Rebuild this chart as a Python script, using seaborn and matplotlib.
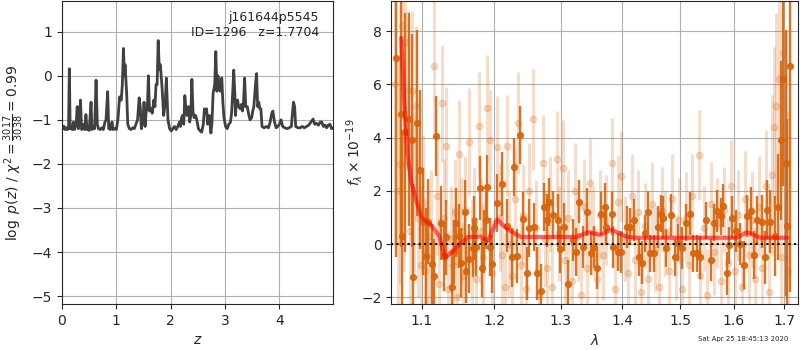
import numpy as np
import matplotlib
matplotlib.use("Agg")
import matplotlib.pyplot as plt
import matplotlib.ticker as mticker
import seaborn as sns

# p(z) curve
z_grid = [0.00, 0.02, 0.04, 0.06, 0.08, 0.10, 0.12, 0.135, 0.15, 0.17,
          0.19, 0.21, 0.23, 0.26, 0.28, 0.30, 0.32, 0.34, 0.36, 0.38,
          0.40, 0.42, 0.44, 0.46, 0.48, 0.50, 0.535, 0.55, 0.58, 0.60,
          0.627, 0.65, 0.67, 0.70, 0.73, 0.76, 0.79, 0.81, 0.84, 0.86,
          0.89, 0.92, 0.94, 0.97, 1.00, 1.03, 1.06, 1.09, 1.11, 1.13,
          1.15, 1.16, 1.19, 1.21, 1.24, 1.27, 1.30, 1.33, 1.36, 1.39,
          1.42, 1.44, 1.46, 1.49, 1.51, 1.53, 1.55, 1.57, 1.59, 1.61,
          1.64, 1.66, 1.69, 1.71, 1.73, 1.75, 1.77, 1.79, 1.81, 1.84,
          1.87, 1.90, 1.92, 1.95, 1.98, 2.01, 2.04, 2.07, 2.10, 2.13,
          2.16, 2.18, 2.20, 2.22, 2.24, 2.26, 2.28, 2.30, 2.33, 2.35,
          2.37, 2.39, 2.41, 2.43, 2.46, 2.48, 2.51, 2.54, 2.57, 2.60,
          2.62, 2.64, 2.66, 2.68, 2.71, 2.74, 2.76, 2.78, 2.81, 2.83,
          2.85, 2.87, 2.89, 2.91, 2.94, 2.96, 2.98, 3.01, 3.04, 3.07,
          3.10, 3.12, 3.14, 3.16, 3.18, 3.19, 3.21, 3.23, 3.25, 3.28,
          3.30, 3.32, 3.34, 3.36, 3.38, 3.41, 3.43, 3.46, 3.49, 3.51,
          3.53, 3.56, 3.58, 3.60, 3.62, 3.64, 3.66, 3.68, 3.72, 3.76,
          3.80, 3.83, 3.86, 3.88, 3.91, 3.94, 3.97, 4.00, 4.03, 4.06,
          4.10, 4.14, 4.18, 4.22, 4.24, 4.26, 4.28, 4.30, 4.34, 4.38,
          4.42, 4.46, 4.50, 4.54, 4.58, 4.62, 4.65, 4.68, 4.72, 4.75,
          4.78, 4.81, 4.84, 4.87, 4.90, 4.93, 4.96, 4.99]
log_pz = [-1.12, -1.20, -1.15, -1.22, -1.18, -1.22, -1.20, 0.16, -1.20, -1.15,
          -1.22, -1.05, -1.22, -1.10, -0.70, -1.20, -0.95, -0.55, -1.22, -1.20,
          -1.10, -1.22, -0.88, -1.22, -1.18, -1.24, -0.60, -1.22, -1.15, -1.20,
          -0.10, -1.10, -1.20, -1.22, -1.18, -1.22, -1.05, -1.00, -0.36, -1.20,
          -1.22, -1.05, -1.22, -1.20, -1.22, -0.98, -0.48, -0.55, -0.20, 0.62,
          0.00, 0.25, -0.40, -1.10, -1.20, -1.22, -1.18, -1.20, -1.10, -1.00,
          -0.50, -0.70, -1.20, -1.00, -0.60, -1.15, -0.80, -0.75, 0.00, -0.80,
          -0.75, -0.85, -0.55, -0.70, -0.20, -0.20, 0.80, 0.15, 0.25, -0.25,
          -0.90, -0.60, -0.05, -1.00, -1.20, -1.25, -1.20, -1.15, -1.22, -1.15,
          -1.05, -1.15, -0.95, -0.90, -1.10, -0.45, -0.75, -0.90, -0.70, -1.05,
          -0.90, -0.08, -0.80, -0.95, -0.90, -1.00, -1.20, -1.25, -1.28, -1.10,
          -0.75, -0.85, -0.75, -1.10, -0.90, -1.30, -1.05, -0.40, -0.20, 0.55,
          -0.35, 0.00, -0.25, -0.35, -0.05, -0.60, -0.95, -1.15, -1.20, -1.10,
          -1.05, -0.85, -0.40, 0.13, -0.40, -0.90, -0.60, -0.55, -0.70, -0.75,
          -0.65, -0.80, -0.60, -0.05, -0.70, -0.70, -0.85, -1.00, -0.95, -0.80,
          -0.70, -0.20, 0.05, -0.70, -0.60, -0.75, -0.75, -1.15, -1.18, -1.15,
          -1.18, -1.05, -0.85, -0.80, -1.05, -1.18, -1.15, -1.10, -1.00, -1.15,
          -1.18, -1.20, -1.18, -1.15, -0.85, -0.60, -0.70, -1.15, -1.18, -1.18,
          -1.15, -1.18, -1.15, -1.12, -1.05, -0.98, -1.10, -1.08, -1.12, -1.05,
          -1.05, -1.15, -1.12, -1.18, -1.12, -1.10, -1.20, -1.18]

# optimally-extracted spectrum (dark points)
lam_dark = [1.067, 1.0735, 1.075, 1.0785, 1.084, 1.0878, 1.0894, 1.0947, 1.0974, 1.1026,
            1.1065, 1.109, 1.114, 1.117, 1.1195, 1.1255, 1.130, 1.133, 1.1415, 1.144,
            1.147, 1.150, 1.153, 1.1585, 1.161, 1.164, 1.1695, 1.172, 1.175, 1.1795,
            1.183, 1.185, 1.188, 1.1905, 1.1935, 1.1965, 1.2045, 1.212, 1.2195, 1.2255,
            1.2285, 1.233, 1.2375, 1.242, 1.248, 1.251, 1.2585, 1.263, 1.269, 1.2735,
            1.279, 1.282, 1.288, 1.2955, 1.2985, 1.3048, 1.3113, 1.3193, 1.3242, 1.329,
            1.3354, 1.3419, 1.3483, 1.3532, 1.357, 1.3645, 1.3709, 1.3725, 1.3822, 1.3838,
            1.3919, 1.3968, 1.4069, 1.412, 1.419, 1.4276, 1.4328, 1.4379, 1.4431, 1.4466,
            1.4534, 1.4603, 1.4655, 1.469, 1.4759, 1.4845, 1.4914, 1.4966, 1.5038, 1.5113,
            1.5189, 1.5227, 1.5302, 1.5359, 1.5472, 1.5567, 1.5624, 1.568, 1.5756, 1.5794,
            1.5869, 1.5907, 1.5964, 1.604, 1.612, 1.619, 1.626, 1.634, 1.640, 1.646,
            1.656, 1.661, 1.666, 1.672, 1.682, 1.688, 1.694, 1.698, 1.704, 1.706,
            1.712]
flux_dark = [7.0, 4.9, 0.3, 4.2, 4.7, 3.9, -1.25, 4.55, 2.8, 0.85,
             -0.45, 0.85, -0.75, -1.2, 4.07, 0.8, -0.45, 0.25, -1.6, -0.3,
             0.8, 0.3, -0.7, 1.2, -1.0, -0.55, -0.15, 0.6, -0.1, 2.1,
             -0.9, 0.1, 0.9, 2.15, -0.1, -0.75, 1.55, 2.25, 0.7, -0.5,
             2.9, -0.45, 4.1, 0.95, -1.1, 0.6, 0.65, -1.1, -1.75, 1.4,
             0.9, 1.6, 1.1, 0.9, -0.2, 0.65, -1.5, 0.15, -0.3, 1.6,
             -0.1, 1.2, -0.35, -0.1, -0.9, 1.15, 1.4, 0.65, 1.15, -0.1,
             -0.3, -0.3, 0.65, 0.65, 0.9, -0.5, -0.7, 0.4, 1.2, -0.35,
             -0.35, 0.65, 1.15, 1.0, -0.15, 1.1, -0.5, 0.05, -0.15, 0.8,
             1.15, -0.35, -0.35, -0.5, 0.9, -0.6, 0.8, 1.25, 1.05, 1.45,
             -1.1, -0.05, 1.0, 0.5, 0.0, -0.8, 1.05, 1.25, -0.4, 0.9,
             0.85, -0.5, 1.3, 0.85, 0.3, 1.4, 3.9, 6.2, 3.05, 0.7,
             6.7]
err_dark = [7.5, 5.0, 4.0, 4.5, 4.0, 4.0, 3.5, 3.5, 3.0, 2.0,
            1.8, 1.6, 1.5, 1.4, 1.5, 1.4, 1.3, 1.4, 1.3, 1.2,
            1.3, 1.2, 1.3, 1.2, 1.2, 1.3, 1.1, 1.2, 1.1, 1.2,
            1.1, 1.2, 1.1, 1.2, 1.1, 1.1, 1.1, 1.2, 1.0, 1.1,
            1.1, 1.0, 1.1, 1.0, 1.0, 1.1, 0.9, 1.0, 1.0, 0.9,
            1.0, 0.9, 0.9, 1.0, 0.9, 0.9, 0.9, 0.8, 0.9, 0.8,
            0.8, 0.9, 0.8, 0.8, 0.8, 0.8, 0.9, 0.7, 0.8, 0.8,
            0.7, 0.8, 0.8, 0.7, 0.8, 0.7, 0.8, 0.7, 0.8, 0.7,
            0.7, 0.8, 0.7, 0.8, 0.7, 0.8, 0.7, 0.7, 0.8, 0.7,
            0.8, 0.7, 0.7, 0.8, 0.7, 0.8, 0.7, 0.8, 0.7, 0.8,
            0.8, 0.7, 0.8, 0.8, 0.8, 0.9, 0.8, 0.9, 0.9, 0.9,
            1.0, 1.0, 1.1, 1.2, 1.5, 2.0, 3.0, 4.0, 5.0, 4.0,
            8.5]

# second spectrum (light points)
lam_light = [1.066, 1.069, 1.072, 1.074, 1.077, 1.079, 1.082, 1.085, 1.088, 1.090,
             1.093, 1.096, 1.099, 1.102, 1.105, 1.109, 1.112, 1.117, 1.120, 1.123,
             1.128, 1.1295, 1.133, 1.136, 1.139, 1.142, 1.145, 1.148, 1.150, 1.153,
             1.156, 1.159, 1.165, 1.168, 1.171, 1.174, 1.178, 1.181, 1.184, 1.190,
             1.1935, 1.197, 1.204, 1.208, 1.212, 1.216, 1.219, 1.222, 1.226, 1.230,
             1.2345, 1.239, 1.243, 1.247, 1.252, 1.258, 1.262, 1.266, 1.272, 1.275,
             1.279, 1.283, 1.287, 1.294, 1.297, 1.303, 1.307, 1.312, 1.317, 1.322,
             1.327, 1.332, 1.337, 1.342, 1.347, 1.352, 1.357, 1.362, 1.367, 1.372,
             1.382, 1.387, 1.392, 1.398, 1.404, 1.410, 1.416, 1.421, 1.427, 1.432,
             1.438, 1.444, 1.450, 1.456, 1.462, 1.468, 1.474, 1.480, 1.486, 1.492,
             1.498, 1.504, 1.510, 1.516, 1.522, 1.534, 1.537, 1.543, 1.550, 1.556,
             1.563, 1.569, 1.576, 1.582, 1.589, 1.595, 1.602, 1.609, 1.615, 1.622,
             1.629, 1.636, 1.642, 1.649, 1.656, 1.663, 1.669, 1.675, 1.680, 1.684,
             1.690, 1.694, 1.698, 1.703, 1.708]
flux_light = [6.0, 2.0, 3.0, 8.2, 3.0, 7.6, 5.8, 0.5, 5.75, 2.0,
              5.2, 1.0, -0.8, 1.6, -1.0, -0.5, 0.3, 6.7, 1.8, -1.5,
              5.3, 1.0, 3.7, -1.7, 0.2, -0.8, 1.2, -2.0, 3.4, 0.5,
              -1.2, 1.3, 3.85, -0.3, 0.9, -1.3, 4.45, 0.5, -0.5, 5.1,
              3.9, -1.1, 3.65, 1.0, -0.4, -1.6, 3.7, 0.0, -1.2, 1.7,
              4.55, -0.8, 1.1, -1.7, 2.0, 4.7, 0.6, -1.9, 3.05, 0.2,
              -0.9, 1.5, -1.6, 3.2, 0.4, 2.85, -0.6, 1.0, -1.4, 2.0,
              0.3, -1.9, 1.4, -0.9, 2.3, 0.5, -1.3, 1.1, -0.4, 0.9,
              3.05, -1.7, 1.6, 2.55, 0.2, -1.1, 1.8, -0.6, 1.2, -1.8,
              0.7, -1.3, 1.5, -0.2, -1.6, 1.3, 0.4, -1.0, 1.7, -0.5,
              0.9, -1.7, 1.0, -0.8, 1.8, 3.35, -1.2, 0.6, -1.9, 1.5,
              -0.3, 0.8, -1.4, 1.3, -0.7, 2.2, -1.0, 1.1, -1.6, 1.7,
              -0.4, 0.9, -1.3, 1.4, -0.9, 2.2, -1.8, 2.6, 4.4, 5.2,
              6.2, -0.5, 7.2, 3.0, -1.0]
err_light = [6.0, 5.0, 4.5, 3.5, 4.0, 3.5, 3.0, 4.0, 3.0, 3.0,
             3.0, 3.0, 3.0, 2.5, 2.5, 2.5, 2.5, 2.5, 2.2, 2.5,
             2.2, 2.2, 2.2, 2.2, 2.0, 2.2, 2.0, 2.0, 2.0, 2.0,
             2.0, 2.0, 2.0, 2.0, 2.0, 2.0, 2.0, 2.0, 2.0, 2.0,
             1.9, 2.0, 1.9, 2.0, 1.9, 2.0, 1.9, 2.0, 1.9, 1.9,
             1.9, 1.9, 1.9, 1.9, 1.8, 1.9, 1.8, 1.9, 1.8, 1.8,
             1.8, 1.8, 1.8, 1.8, 1.8, 1.8, 1.7, 1.8, 1.7, 1.8,
             1.7, 1.7, 1.8, 1.7, 1.7, 1.7, 1.7, 1.7, 1.7, 1.7,
             1.7, 1.7, 1.7, 1.7, 1.6, 1.7, 1.6, 1.7, 1.6, 1.6,
             1.6, 1.7, 1.6, 1.6, 1.7, 1.6, 1.6, 1.6, 1.7, 1.6,
             1.6, 1.6, 1.7, 1.6, 1.6, 1.7, 1.6, 1.6, 1.7, 1.6,
             1.6, 1.7, 1.6, 1.6, 1.7, 1.7, 1.7, 1.7, 1.7, 1.8,
             1.8, 1.8, 1.9, 1.9, 2.0, 2.1, 2.5, 3.0, 3.0, 3.5,
             4.0, 4.0, 4.0, 5.0, 6.0]

# best-fit model
lam_model = [1.0735, 1.0776, 1.0816, 1.0865, 1.093, 1.0996, 1.1146, 1.124, 1.1316, 1.146,
             1.1626, 1.181, 1.1915, 1.2045, 1.219, 1.2392, 1.269, 1.3247, 1.3435, 1.3628,
             1.3817, 1.408, 1.4253, 1.6054, 1.6254, 1.652, 1.706]
flux_model = [7.75, 5.3, 3.4, 2.35, 1.65, 1.03, 0.65, 0.28, -0.52, -0.15,
              0.27, 0.28, 0.13, 0.92, 0.57, 0.27, 0.27, 0.27, 0.45, 0.35,
              0.54, 0.27, 0.24, 0.24, 0.45, 0.24, 0.24]

obj_name = "j161644p5545"
obj_id = 1296
z_best = 1.7704
chi2_num, chi2_den = 3017, 3038
stamp = "Sat Apr 25 18:45:13 2020"

sns.set_style("ticks")
plt.rcParams['font.family'] = ['DejaVu Sans']
grid_kw = dict(color='#b0b0b0', linewidth=0.8)
orange = '#d8650c'

fig = plt.figure(figsize=(8, 3.5), dpi=100)
ax1 = fig.add_axes([0.0775, 0.1314, 0.339, 0.866])
ax2 = fig.add_axes([0.489, 0.1314, 0.509, 0.866])

# left panel: p(z)
sns.lineplot(x=z_grid, y=log_pz, ax=ax1, color='0.25', linewidth=2.0,
             sort=False, estimator=None)
ax1.set_xlim(0, 4.99)
ax1.set_ylim(-5.18, 1.70)
ax1.set_yticks([-5, -4, -3, -2, -1, 0, 1])
ax1.set_xticks([0, 1, 2, 3, 4])
ax1.grid(True, **grid_kw)
ax1.set_xlabel(r'$z$')
ax1.set_ylabel(r'$\log\ p(z)$' + ' / ' +
               r'$\chi^2=\frac{%d}{%d}=%.2f$' % (chi2_num, chi2_den, chi2_num / chi2_den))
ax1.text(0.948, 0.968, f"{obj_name}\nID={obj_id}   z={z_best:.4f}",
         transform=ax1.transAxes, ha='right', va='top', fontsize=9)

# right panel: spectrum
ax2.errorbar(lam_light, flux_light, yerr=err_light, fmt='o', color=orange,
             alpha=0.22, markersize=4.5, elinewidth=2.2, capsize=0, zorder=1)
ax2.errorbar(lam_dark, flux_dark, yerr=err_dark, fmt='o', color=orange,
             alpha=0.9, markersize=4.2, elinewidth=1.7, capsize=0, zorder=2)
sns.lineplot(x=lam_model, y=flux_model, ax=ax2, color='red', alpha=0.6,
             linewidth=3, sort=False, estimator=None, zorder=3)
ax2.plot([1.06, 1.73], [0, 0], color='k', linestyle=':', linewidth=1.5, zorder=4)
ax2.set_xscale('log')
ax2.set_xlim(1.0607, 1.729)
ax2.set_ylim(-2.25, 9.14)
ax2.xaxis.set_major_locator(mticker.FixedLocator([1.1, 1.2, 1.3, 1.4, 1.5, 1.6, 1.7]))
ax2.xaxis.set_major_formatter(mticker.FormatStrFormatter('%.1f'))
ax2.xaxis.set_minor_locator(mticker.NullLocator())
ax2.set_yticks([-2, 0, 2, 4, 6, 8])
ax2.grid(True, **grid_kw)
ax2.set_axisbelow(True)
ax2.set_xlabel(r'$\lambda$')
ax2.set_ylabel(r'$f_\lambda\times10^{-19}$')
ax2.yaxis.set_label_coords(-0.065, 0.5)

fig.text(0.985, 0.031, stamp, ha='right', va='center', fontsize=5)

fig.savefig("out.png", dpi=100)
